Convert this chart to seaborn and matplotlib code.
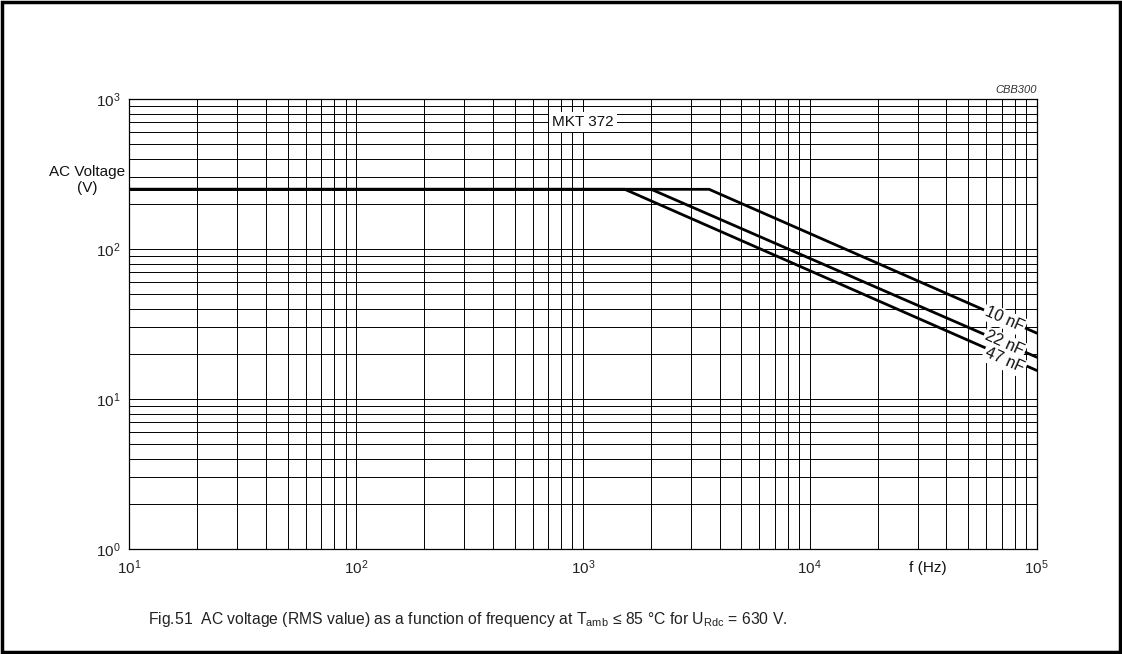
import numpy as np
import pandas as pd
import matplotlib
matplotlib.use("Agg")
import matplotlib.pyplot as plt
from matplotlib.patches import Rectangle
from matplotlib.ticker import LogLocator, NullFormatter
import seaborn as sns

sns.set_style("white")
plt.rcParams["font.family"] = ["Liberation Sans", "DejaVu Sans"]
plt.rcParams["mathtext.fontset"] = "custom"
plt.rcParams["mathtext.rm"] = "Liberation Sans"
plt.rcParams["mathtext.it"] = "Liberation Sans:italic"

# --- data (f in Hz, U in V) ---
capacitances = ["10 nF", "22 nF", "47 nF"]
freq_10nF = [10, 3600, 1e5]
volt_10nF = [250, 250, 27.5]
freq_22nF = [10, 2000, 1e5]
volt_22nF = [250, 250, 19.0]
freq_47nF = [10, 1530, 1e5]
volt_47nF = [250, 250, 15.5]
label_freq = [72000, 72000, 72000]
label_volt = [34, 23.4, 18.0]

df = pd.concat([
    pd.DataFrame({"f": freq_10nF, "U": volt_10nF, "cap": "10 nF"}),
    pd.DataFrame({"f": freq_22nF, "U": volt_22nF, "cap": "22 nF"}),
    pd.DataFrame({"f": freq_47nF, "U": volt_47nF, "cap": "47 nF"}),
])

fig = plt.figure(figsize=(11.22, 6.54), dpi=100)
ax = fig.add_axes([0.115, 0.1606, 0.809, 0.688])

sns.lineplot(data=df, x="f", y="U", hue="cap", palette=["black"] * 3,
             linewidth=2.0, legend=False, ax=ax, zorder=3)

ax.set_xscale("log")
ax.set_yscale("log")
ax.set_xlim(10, 1e5)
ax.set_ylim(1, 1e3)

for axis in (ax.xaxis, ax.yaxis):
    axis.set_major_locator(LogLocator(base=10))
    axis.set_minor_locator(LogLocator(base=10, subs=np.arange(2, 10)))
    axis.set_minor_formatter(NullFormatter())
ax.grid(True, which="both", color="black", linewidth=0.7)
ax.tick_params(which="both", length=0, labelsize=11, colors="#222222")
ax.tick_params(axis="x", pad=7)
ax.tick_params(axis="y", pad=6)
for sp in ax.spines.values():
    sp.set_color("black")
    sp.set_linewidth(0.9)
ax.set_xlabel("")
ax.set_ylabel("")

# curve labels
for cap, xf, yv in zip(capacitances, label_freq, label_volt):
    ax.text(xf, yv, cap, rotation=-24, ha="center", va="center", fontsize=11.5,
            color="#111111", zorder=5,
            bbox=dict(boxstyle="square,pad=0.12", facecolor="white", edgecolor="none"))

ax.text(1000, 700, "MKT 372", ha="center", va="center", fontsize=11, color="#111111",
        zorder=5, bbox=dict(boxstyle="square,pad=0.2", facecolor="white", edgecolor="none"))
ax.text(1.0, 1.008, "CBB300", transform=ax.transAxes, ha="right", va="bottom",
        fontsize=8, style="italic", color="#333333")
ax.text(-0.004, 0.82, "AC Voltage\n(V)", transform=ax.transAxes, ha="right",
        va="center", fontsize=11, color="#111111", multialignment="center")
ax.annotate("f (Hz)", xy=(10**4.52, 0), xycoords=("data", "axes fraction"),
            xytext=(0, -9), textcoords="offset points", ha="center", va="top",
            fontsize=11, color="#111111")

fig.text(0.132, 0.052,
         r"Fig.51  AC voltage (RMS value) as a function of frequency at T$_{\rm amb}$ ≤ 85 °C for U$_{\rm Rdc}$ = 630 V.",
         fontsize=11.3, color="#222222", ha="left", va="center")

fig.patches.append(Rectangle((0.002, 0.003), 0.996, 0.994, transform=fig.transFigure,
                             fill=False, edgecolor="black", linewidth=2.5))

fig.savefig("out.png", dpi=100)
